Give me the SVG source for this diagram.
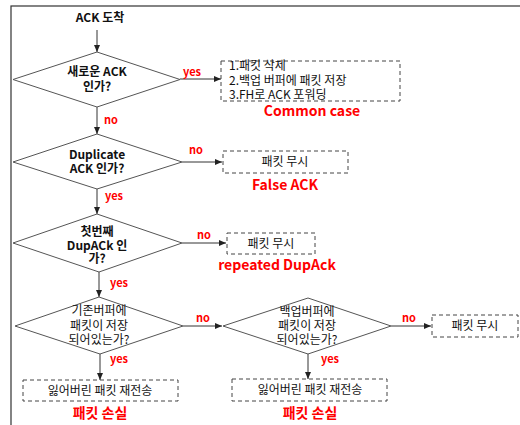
<svg xmlns="http://www.w3.org/2000/svg" width="520" height="425" viewBox="0 0 520 425">
<style>
.d{fill:#fff;stroke:#555;stroke-width:1}
.b{fill:#fff;stroke:#444;stroke-width:1;stroke-dasharray:4,3}
.t{font-family:"Noto Sans CJK KR","Noto Sans",sans-serif;font-size:12px;fill:#111;text-anchor:middle}
.tb{font-weight:bold}
.tl{text-anchor:start}
.r{font-family:"Noto Sans CJK KR","Noto Sans",sans-serif;font-weight:bold;fill:#ff0000;text-anchor:middle}
.yn{font-size:11px;text-anchor:start}
.big{font-size:14px}
.c{stroke:#333;stroke-width:1;fill:none;marker-end:url(#ah)}
</style>
<defs>
<marker id="ah" markerWidth="8" markerHeight="8" refX="7" refY="4" orient="auto" markerUnits="userSpaceOnUse">
<path d="M0,1 L7,4 L0,7 Z" fill="#222"/>
</marker>
</defs>
<rect x="11" y="6" width="520" height="430" fill="#fff" stroke="#333" stroke-width="1.2"/>
<g id="start"><text class="t tb" x="100" y="22">ACK 도착</text></g>
<g id="connectors">
<line class="c" x1="97" y1="30" x2="97" y2="52"/>
<line class="c" x1="180" y1="79" x2="221" y2="79"/>
<line class="c" x1="97" y1="107" x2="97" y2="134"/>
<line class="c" x1="182" y1="162" x2="222" y2="162"/>
<line class="c" x1="97" y1="189" x2="97" y2="214"/>
<line class="c" x1="182" y1="243" x2="226" y2="243"/>
<line class="c" x1="99" y1="272" x2="99" y2="297"/>
<line class="c" x1="183" y1="326" x2="222" y2="326"/>
<line class="c" x1="391" y1="326" x2="431" y2="326"/>
<line class="c" x1="100" y1="354" x2="100" y2="380"/>
<line class="c" x1="308" y1="354" x2="308" y2="379"/>
<text class="r yn" x="183" y="76">yes</text>
<text class="r yn" x="104" y="124">no</text>
<text class="r yn" x="189" y="154">no</text>
<text class="r yn" x="105" y="200">yes</text>
<text class="r yn" x="197" y="239">no</text>
<text class="r yn" x="110" y="287">yes</text>
<text class="r yn" x="196" y="322">no</text>
<text class="r yn" x="110" y="363">yes</text>
<text class="r yn" x="402" y="322">no</text>
<text class="r yn" x="321" y="363">yes</text>
</g>
<g id="d1"><polygon class="d" points="97,52 180,79.5 97,107 13,79.5"/>
<text class="t tb" x="97" y="76">새로운 ACK</text><text class="t tb" x="97" y="91">인가?</text></g>
<g id="common"><rect class="b" x="221" y="61" width="179" height="40"/>
<text class="t tl" x="229" y="70">1.패킷 삭제</text>
<text class="t tl" x="229" y="85">2.백업 버퍼에 패킷 저장</text>
<text class="t tl" x="229" y="99">3.FH로 ACK 포워딩</text>
<text class="r big" x="312" y="116">Common case</text></g>
<g id="d2"><polygon class="d" points="97,134 182,162 97,189 13,162"/>
<text class="t tb" x="97" y="159">Duplicate</text><text class="t tb" x="97" y="173">ACK 인가?</text></g>
<g id="false"><rect class="b" x="223" y="151" width="125" height="22"/>
<text class="t" x="285" y="166">패킷 무시</text>
<text class="r big" x="285" y="190">False ACK</text></g>
<g id="d3"><polygon class="d" points="97,214 182,243 99,272 13,243"/>
<text class="t tb" x="97" y="236">첫번째</text><text class="t tb" x="97" y="250">DupACk 인</text><text class="t tb" x="97" y="263">가?</text></g>
<g id="rep"><rect class="b" x="227" y="233" width="88" height="21"/>
<text class="t" x="271" y="248">패킷 무시</text>
<text class="r big" x="277" y="270">repeated DupAck</text></g>
<g id="d4"><polygon class="d" points="99,297 183,326 100,354 15,326"/>
<text class="t" x="99" y="315">기존버퍼에</text><text class="t" x="99" y="330">패킷이 저장</text><text class="t" x="99" y="344">되어있는가?</text></g>
<g id="d5"><polygon class="d" points="308,298 391,326 308,354 223,326"/>
<text class="t" x="307" y="316">백업버퍼에</text><text class="t" x="307" y="330">패킷이 저장</text><text class="t" x="307" y="344">되어있는가?</text></g>
<g id="ignore3"><rect class="b" x="432" y="315" width="86" height="22"/>
<text class="t" x="475" y="330">패킷 무시</text></g>
<g id="loss1"><rect class="b" x="23" y="380" width="155" height="21"/>
<text class="t" x="100" y="395">잃어버린 패킷 재전송</text>
<text class="r big" x="100" y="418">패킷 손실</text></g>
<g id="loss2"><rect class="b" x="232" y="379" width="155" height="22"/>
<text class="t" x="310" y="394">잃어버린 패킷 재전송</text>
<text class="r big" x="310" y="418">패킷 손실</text></g>
</svg>
